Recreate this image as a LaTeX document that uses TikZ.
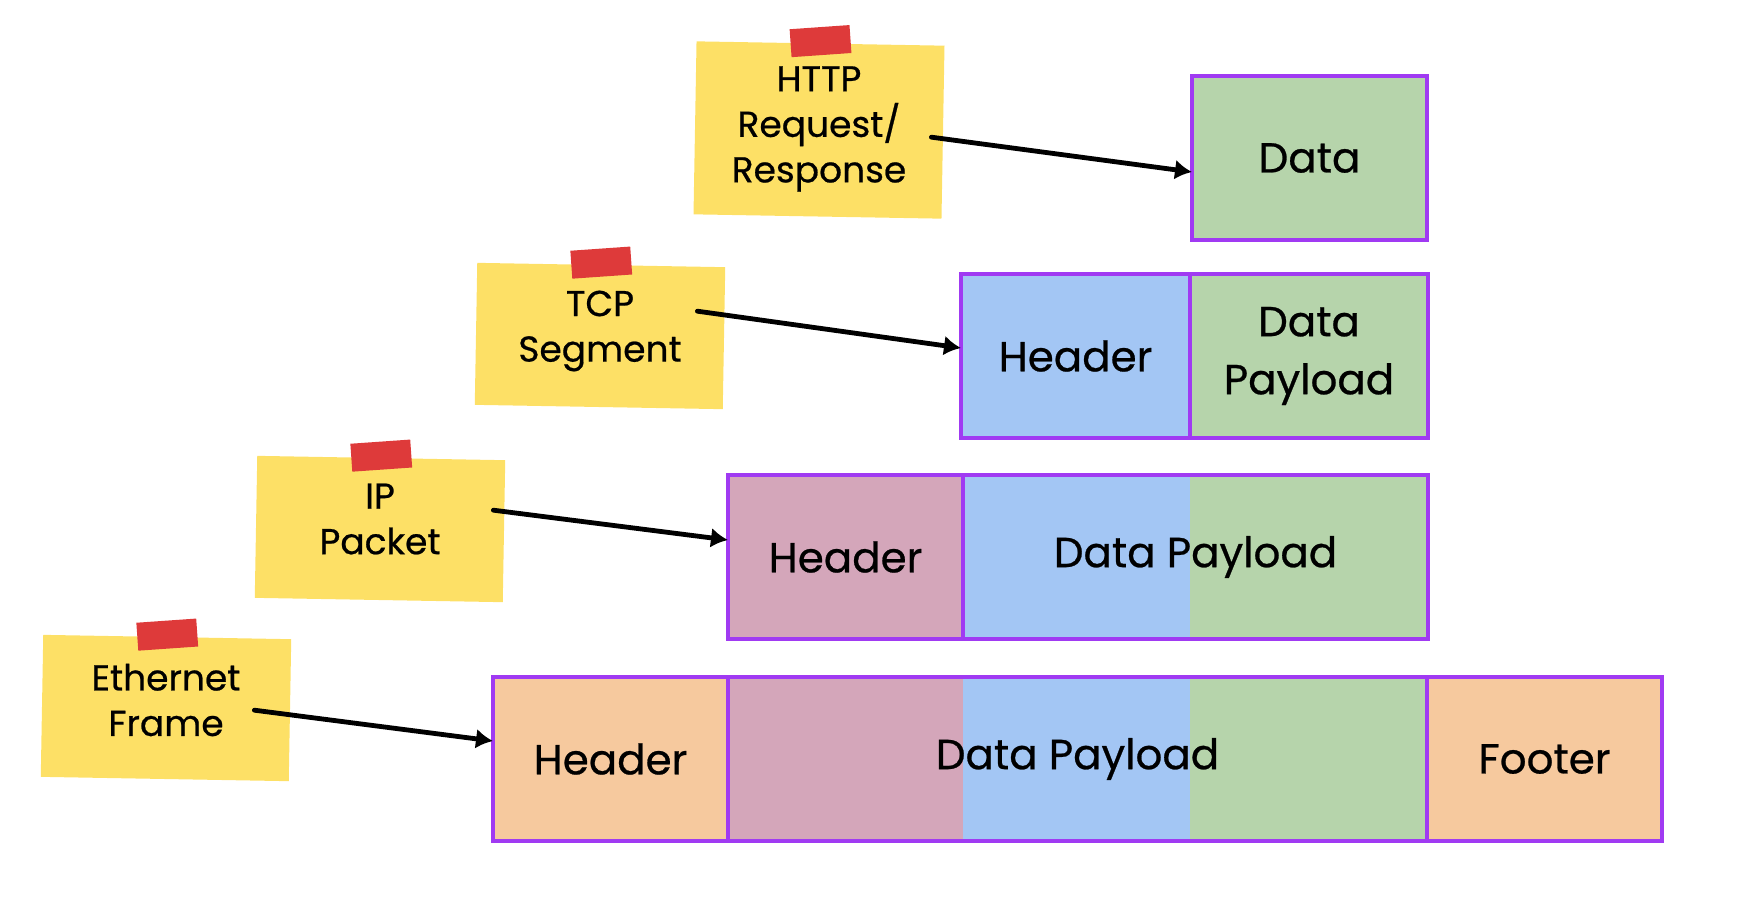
\documentclass[tikz,border=0pt]{standalone}
\usepackage{fontspec}
\setmainfont{Poppins}[FakeBold=0.6]
\usepackage{tikz}
\usetikzlibrary{arrows.meta, positioning, backgrounds}

\definecolor{datagreen}{HTML}{B6D4AB}
\definecolor{hdrblue}{HTML}{A3C6F4}
\definecolor{hdrmauve}{HTML}{D4A6BA}
\definecolor{hdrpeach}{HTML}{F6C99E}
\definecolor{cellborder}{HTML}{A03AF2}
\definecolor{noteyellow}{HTML}{FDE066}
\definecolor{tapered}{HTML}{DE3A3A}

\begin{document}
\begin{tikzpicture}[x=0.5pt, y=-0.5pt,
    cell/.style={draw=cellborder, line width=1.8pt, outer sep=0pt, inner sep=0pt,
      minimum height=82pt, minimum width=117.5pt, align=center,
      font=\fontsize{21}{29}\selectfont},
    note/.style={fill=noteyellow, minimum width=124pt, minimum height=71pt,
      inner sep=0pt, rotate=-1},
    notetext/.style={align=center, inner sep=0pt, font=\fontsize{18}{22.75}\selectfont},
    tape/.style={fill=tapered, minimum width=30pt, minimum height=14pt,
      inner sep=0pt, rotate=4},
    link/.style={-{Latex[length=8.5pt,width=10pt]}, line width=2.4pt, line cap=round}]
  \useasboundingbox (0,0) rectangle (1764,922);

  % layer boxes
  \node[cell, fill=datagreen, anchor=north west] (httpdata) at (1192,76) {Data};

  \node[cell, fill=hdrblue, minimum width=114.5pt, anchor=north west] (tcphead) at (961,274) {Header};
  \node[cell, fill=datagreen, minimum width=119pt] (tcpdata) [right=0pt of tcphead] {Data\\Payload};

  \node[cell, fill=hdrmauve, anchor=north west] (iphead) at (728,475) {Header};
  \node[cell, minimum width=232.5pt]            (ippay) [right=0pt of iphead] {Data Payload};

  \node[cell, fill=hdrpeach, anchor=north west] (ethhead) at (493,677) {Header};
  \node[cell, minimum width=349.5pt]            (ethpay) [right=0pt of ethhead] {Data Payload};
  \node[cell, fill=hdrpeach]                    (ethfoot) [right=0pt of ethpay] {Footer};

  \begin{scope}[on background layer]
    \fill[hdrblue]   (ippay.north west) rectangle (ippay.south -| tcpdata.west);
    \fill[datagreen] (ippay.north -| tcpdata.west) rectangle (ippay.south east);
    \fill[hdrmauve]  (ethpay.north west) rectangle (ethpay.south -| iphead.east);
    \fill[hdrblue]   (ethpay.north -| iphead.east) rectangle (ethpay.south -| tcpdata.west);
    \fill[datagreen] (ethpay.north -| tcpdata.west) rectangle (ethpay.south east);
  \end{scope}

  % sticky notes
  \node[note, minimum height=86.5pt] (httpnote) at (819,130) {};
  \node[note]                        (tcpnote)  at (600,336) {};
  \node[note]                        (ipnote)   at (380,529) {};
  \node[note]                        (ethnote)  at (166,708) {};

  \node[notetext] (httptext) at ([yshift=0.5pt]httpnote.center) {HTTP\\Request/\\Response};
  \node[notetext] (tcptext)  at ([yshift=2.5pt]tcpnote.center)  {TCP\\Segment};
  \node[notetext] (iptext)   at ([yshift=5pt]ipnote.center)     {IP\\Packet};
  \node[notetext] (ethtext)  at ([yshift=4pt]ethnote.center)    {Ethernet\\Frame};

  \node[tape] (httptape) at ([yshift=1pt]httpnote.north) {};
  \node[tape] (tcptape)  at ([yshift=1pt]tcpnote.north) {};
  \node[tape] (iptape)   at ([yshift=1pt]ipnote.north) {};
  \node[tape] (ethtape)  at ([yshift=1pt]ethnote.north) {};

  \path[link]
    ([xshift=-6pt,yshift=-2.5pt]httpnote.east) edge ([yshift=-7pt]httpdata.west)
    ([xshift=-13.5pt,yshift=13.5pt]tcpnote.east) edge ([yshift=4pt]tcphead.west)
    ([xshift=-5.5pt,yshift=10.5pt]ipnote.east)   edge ([yshift=8.5pt]iphead.west)
    ([xshift=-18pt]ethnote.east)                 edge ([yshift=9pt]ethhead.west);
\end{tikzpicture}
\end{document}
